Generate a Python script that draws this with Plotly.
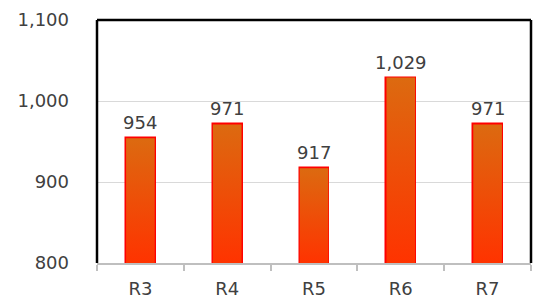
import plotly.graph_objects as go

categories = ["R3", "R4", "R5", "R6", "R7"]
values = [954, 971, 917, 1029, 971]
y_ticks = [800, 900, 1000, 1100]

Y_MIN, Y_MAX = 800, 1100
BAR_W = 0.33
FONT = "DejaVu Sans"
TXT = "#404040"

fig = go.Figure()
xs = list(range(len(categories)))

# gradient-filled bar bodies
for i, v in zip(xs, values):
    fig.add_trace(go.Scatter(
        x=[i - BAR_W / 2, i + BAR_W / 2, i + BAR_W / 2, i - BAR_W / 2, i - BAR_W / 2],
        y=[Y_MIN, Y_MIN, v, v, Y_MIN],
        mode="lines", line=dict(width=0), fill="toself",
        fillgradient=dict(type="vertical",
                          colorscale=[[0, "#FF3300"], [1, "#DC6A10"]]),
        hoverinfo="skip", showlegend=False,
    ))

# outlines
fig.add_trace(go.Bar(
    x=xs, y=[v - Y_MIN for v in values], base=Y_MIN, width=BAR_W,
    marker=dict(color="rgba(0,0,0,0)", line=dict(color="#FF0000", width=2.5)),
    showlegend=False, hoverinfo="skip",
))

for i, v in zip(xs, values):
    fig.add_annotation(x=i, y=v, text=f"{v:,}", showarrow=False,
                       yanchor="bottom", yshift=3,
                       font=dict(family=FONT, size=18, color=TXT))

# frame: top, left, right black
for x0, y0, x1, y1 in [(0, 1, 1, 1), (0, 0, 0, 1), (1, 0, 1, 1)]:
    fig.add_shape(type="line", xref="paper", yref="paper",
                  x0=x0, x1=x1, y0=y0, y1=y1,
                  line=dict(color="black", width=2.5))

fig.update_layout(
    width=537, height=300,
    margin=dict(l=97, r=6, t=20, b=37, autoexpand=False),
    paper_bgcolor="white", plot_bgcolor="white",
    separators=".,",
    font=dict(family=FONT, size=18, color=TXT),
    bargap=0,
)
fig.update_xaxes(
    range=[-0.5, len(categories) - 0.5], automargin=False,
    tickvals=xs, ticktext=categories, ticks="", ticklen=0,
    showgrid=False, zeroline=False,
    showline=True, linecolor="#BFBFBF", linewidth=2,
    minor=dict(tickvals=[i - 0.5 for i in range(len(categories) + 1)],
               ticks="outside", ticklen=6, tickcolor="#BFBFBF", tickwidth=2),
    ticklabelstandoff=8,
    tickfont=dict(family=FONT, size=18, color=TXT),
)
fig.update_yaxes(
    range=[Y_MIN, Y_MAX], tickvals=y_ticks, tickformat=",", automargin=False,
    showgrid=True, gridcolor="#D9D9D9", gridwidth=1,
    zeroline=False, showline=False,
    ticks="", ticklabelstandoff=27,
    tickfont=dict(family=FONT, size=18, color=TXT),
)

fig.write_html("out.html", config={"displayModeBar": False},
               post_script="document.body.style.margin='0';")
